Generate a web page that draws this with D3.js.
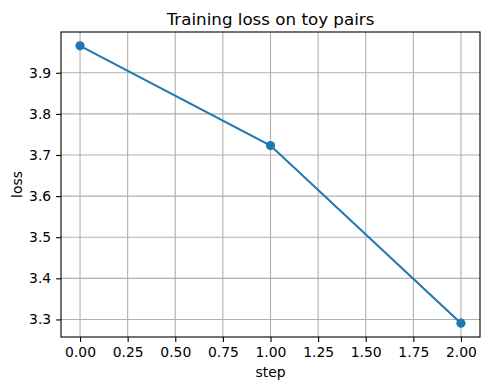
<!DOCTYPE html>
<html>
<head>
<meta charset="utf-8">
<script src="https://cdn.jsdelivr.net/npm/d3@7"></script>
<style>
    body { margin: 0; background: #fff; }
    svg { display: block; font-family: "DejaVu Sans", sans-serif; }
</style>
</head>
<body>
<div id="container"></div>
<script>
// data
const steps = [0, 1, 2];
const loss = [3.9655, 3.723, 3.291];
const xTicks = [0, 0.25, 0.5, 0.75, 1, 1.25, 1.5, 1.75, 2];
const yTicks = [3.3, 3.4, 3.5, 3.6, 3.7, 3.8, 3.9];

const width = 490;
const height = 390;
const marginTop = 32;
const marginRight = 10;
const marginBottom = 53;
const marginLeft = 61;

const data = steps.map((s, i) => ({ step: s, loss: loss[i] }));

// matplotlib-style 5% padding on the data range
function padded(ext) {
    const pad = (ext[1] - ext[0]) * 0.05;
    return [ext[0] - pad, ext[1] + pad];
}

const x = d3.scaleLinear()
    .domain(padded(d3.extent(steps)))
    .range([marginLeft, width - marginRight]);

const y = d3.scaleLinear()
    .domain(padded(d3.extent(loss)))
    .range([height - marginBottom, marginTop]);

const svg = d3.select("#container").append("svg")
    .attr("width", width)
    .attr("height", height);

// grid
svg.append("g")
    .selectAll("line")
    .data(xTicks)
    .join("line")
        .attr("x1", d => x(d)).attr("x2", d => x(d))
        .attr("y1", marginTop).attr("y2", height - marginBottom)
        .attr("stroke", "#b0b0b0")
        .attr("stroke-width", 1.1);

svg.append("g")
    .selectAll("line")
    .data(yTicks)
    .join("line")
        .attr("x1", marginLeft).attr("x2", width - marginRight)
        .attr("y1", d => y(d)).attr("y2", d => y(d))
        .attr("stroke", "#b0b0b0")
        .attr("stroke-width", 1.1);

// axes
const xAxis = svg.append("g")
    .attr("transform", `translate(0,${height - marginBottom})`)
    .call(d3.axisBottom(x).tickValues(xTicks).tickFormat(d3.format(".2f")).tickSize(4.9).tickPadding(4.9));

const yAxis = svg.append("g")
    .attr("transform", `translate(${marginLeft},0)`)
    .call(d3.axisLeft(y).tickValues(yTicks).tickFormat(d3.format(".1f")).tickSize(4.9).tickPadding(4.9));

[xAxis, yAxis].forEach(g => {
    g.select(".domain").remove();
    g.selectAll(".tick line").attr("stroke", "#000").attr("stroke-width", 1.1);
    g.selectAll(".tick text")
        .attr("fill", "#000")
        .style("font-size", "13.9px")
        .style("font-family", "DejaVu Sans");
});

// frame
svg.append("rect")
    .attr("x", marginLeft)
    .attr("y", marginTop)
    .attr("width", width - marginRight - marginLeft)
    .attr("height", height - marginBottom - marginTop)
    .attr("fill", "none")
    .attr("stroke", "#000")
    .attr("stroke-width", 1.1);

// line + markers
svg.append("path")
    .datum(data)
    .attr("fill", "none")
    .attr("stroke", "#1f77b4")
    .attr("stroke-width", 2.08)
    .attr("d", d3.line()
        .x(d => x(d.step))
        .y(d => y(d.loss))
    );

svg.append("g")
    .selectAll("circle")
    .data(data)
    .join("circle")
        .attr("cx", d => x(d.step))
        .attr("cy", d => y(d.loss))
        .attr("r", 4.6)
        .attr("fill", "#1f77b4");

// labels
svg.append("text")
    .attr("x", (marginLeft + width - marginRight) / 2)
    .attr("y", 25)
    .attr("text-anchor", "middle")
    .style("font-size", "16.7px")
    .text("Training loss on toy pairs");

svg.append("text")
    .attr("x", (marginLeft + width - marginRight) / 2)
    .attr("y", 377)
    .attr("text-anchor", "middle")
    .style("font-size", "13.9px")
    .text("step");

svg.append("text")
    .attr("transform", `translate(22,${(marginTop + height - marginBottom) / 2}) rotate(-90)`)
    .attr("text-anchor", "middle")
    .style("font-size", "13.9px")
    .text("loss");
</script>
</body>
</html>
